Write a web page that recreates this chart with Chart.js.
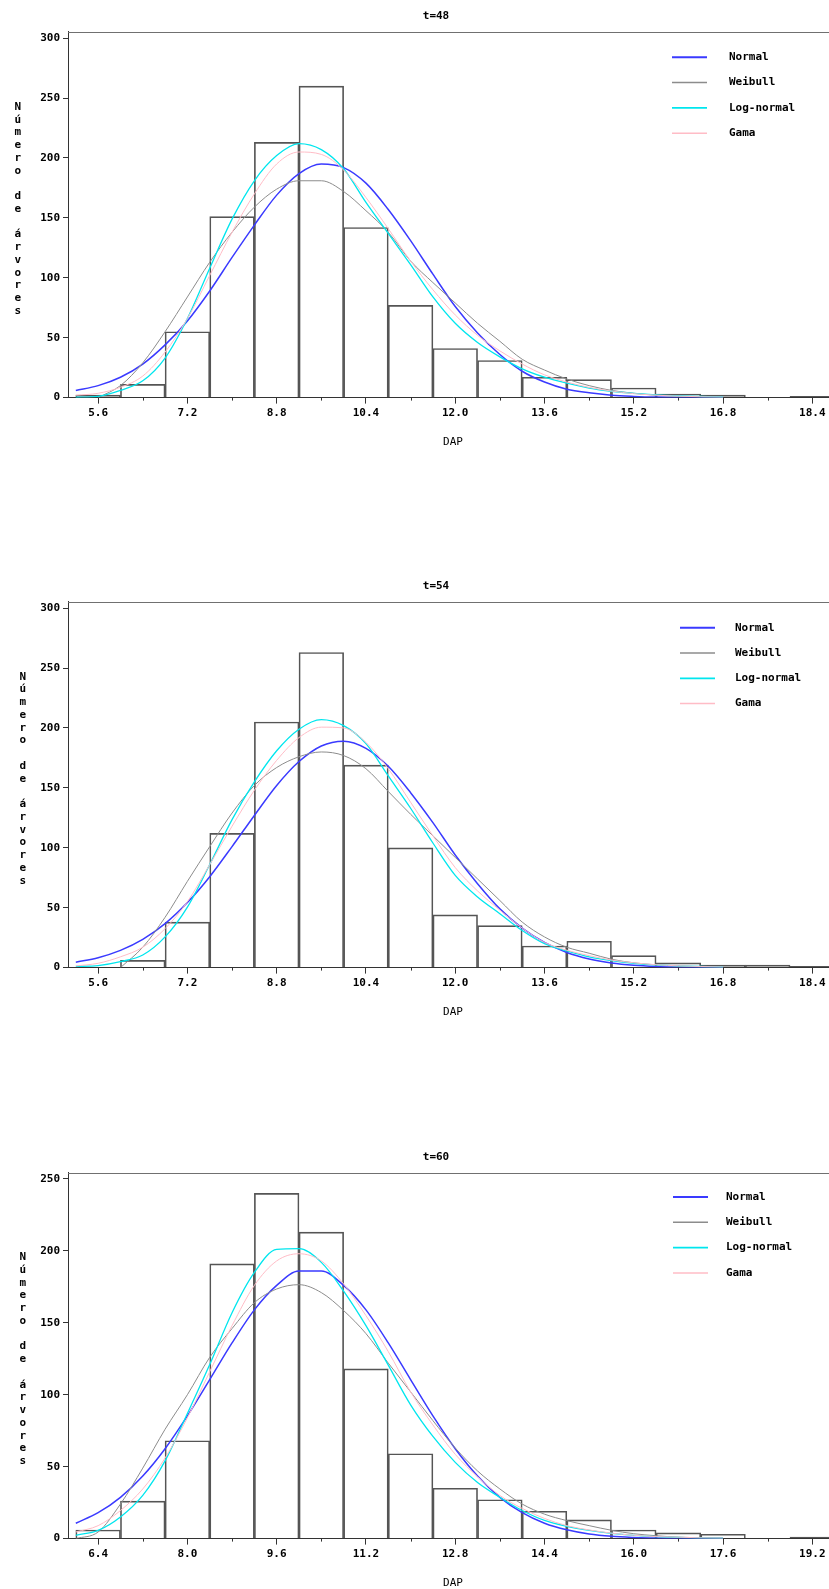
<!DOCTYPE html>
<html>
<head>
<meta charset="utf-8">
<script src="https://cdn.jsdelivr.net/npm/chart.js@4.4.0/dist/chart.umd.min.js"></script>
<style>
  html, body { margin: 0; padding: 0; background: #fff; overflow: hidden; }
  body { width: 829px; height: 1589px; position: relative; }
  .panel { position: absolute; left: 0; }
  .panel canvas { display: block; }
</style>
</head>
<body>
<div class="panel" style="top:0px"><canvas id="c48" width="838" height="453"></canvas></div>
<div class="panel" style="top:570px"><canvas id="c54" width="838" height="453"></canvas></div>
<div class="panel" style="top:1141px"><canvas id="c60" width="838" height="453"></canvas></div>
<script>
// histogram bins (class midpoints) and tree counts
const mids48 = [5.6, 6.4, 7.2, 8.0, 8.8, 9.6, 10.4, 11.2, 12.0, 12.8, 13.6, 14.4, 15.2, 16.0, 16.8, 17.6, 18.4];
const counts48 = [2, 11, 55, 151, 213, 260, 142, 77, 41, 31, 17, 15, 8, 3, 2, 0, 1];
const mids54 = [5.6, 6.4, 7.2, 8.0, 8.8, 9.6, 10.4, 11.2, 12.0, 12.8, 13.6, 14.4, 15.2, 16.0, 16.8, 17.6, 18.4];
const counts54 = [0, 6, 38, 112, 205, 263, 169, 100, 44, 35, 18, 22, 10, 4, 2, 2, 1];
const mids60 = [6.4, 7.2, 8.0, 8.8, 9.6, 10.4, 11.2, 12.0, 12.8, 13.6, 14.4, 15.2, 16.0, 16.8, 17.6, 18.4, 19.2];
const counts60 = [6, 26, 68, 191, 240, 213, 118, 59, 35, 27, 19, 13, 6, 4, 3, 0, 1];

// fitted curves
const curveX = [5.2, 5.6, 6.0, 6.4, 6.8, 7.2, 7.6, 8.0, 8.4, 8.8, 9.2, 9.6, 10.0, 10.4, 10.8, 11.2, 11.6, 12.0, 12.4, 12.8, 13.2, 13.6, 14.0, 14.4, 14.8, 15.2, 15.6, 16.0, 16.4, 16.8];
const curveX60 = [6.0, 6.4, 6.8, 7.2, 7.6, 8.0, 8.4, 8.8, 9.2, 9.6, 10.0, 10.4, 10.8, 11.2, 11.6, 12.0, 12.4, 12.8, 13.2, 13.6, 14.0, 14.4, 14.8, 15.2, 15.6, 16.0, 16.4, 16.8, 17.2, 17.6];

const normal48 = [6, 10, 17, 28, 44, 64, 89, 117, 144, 169, 187, 195, 192, 179, 157, 131, 103, 76, 54, 36, 22, 13, 7, 4, 2, 1, 0.4, 0.2, 0.1, 0];
const weibull48 = [null, 0, 10, 29, 55, 84, 113, 138, 159, 174, 181, 181, 172, 156, 138, 114, 96, 79, 62, 47, 32, 23, 15.5, 10, 6, 3.6, 2, 1.2, 0.6, 0.3];
const lognormal48 = [0.3, 1, 6, 14, 33, 66, 108, 149, 181, 202, 212, 207, 191, 163, 137, 111, 84, 62, 46, 34, 24, 17, 12, 8, 5.3, 3.5, 2.2, 1.4, 0.9, 0.5];
const gama48 = [2, 3.6, 8.6, 18, 38, 66, 102, 138, 170, 195, 205, 203, 190, 167, 141, 114, 90, 69, 52, 39, 28, 19, 13, 8.5, 5.5, 3.3, 2, 1.2, 0.7, 0.4];

const normal54 = [4.5, 8.3, 14.4, 23.6, 36.7, 54.3, 75.9, 101, 127, 152, 172, 185, 189, 183, 168, 146, 121, 94, 70, 49, 33, 21, 12.6, 7.2, 3.9, 2, 1, 0.5, 0.2, 0.1];
const weibull54 = [null, null, 0, 17, 42, 72, 101, 129, 152, 167, 176, 180, 177, 166, 147, 128, 110, 92, 74, 56, 38, 25.6, 17, 12, 7, 4, 2.3, 1.3, 0.7, 0.4];
const lognormal54 = [1, 1.7, 5, 10.5, 25.6, 50.5, 86, 123.5, 155, 181, 199, 207, 202, 187, 160, 133, 104, 77, 59, 45, 31, 20, 14, 9, 5.8, 3.6, 2.2, 1.5, 0.9, 0.5];
const gama54 = [1.4, 3.6, 9, 17, 32.5, 55, 86, 118, 148, 173, 192, 200.7, 200, 188, 166, 138, 110, 83.5, 64, 48, 33, 21, 14.5, 10, 6.3, 4, 2.4, 1.5, 0.9, 0.5];

const normal60 = [10.7, 18, 28.7, 43.5, 62.5, 85.3, 110.5, 136, 159, 176, 186, 186, 176, 159, 136, 110.5, 85.3, 62.5, 43.5, 28.7, 18, 10.7, 6.1, 3.2, 1.6, 0.8, 0.35, 0.15, 0.06, 0];
const weibull60 = [0, 4.6, 24, 49, 76, 100, 126, 146, 164, 173.5, 176.5, 171, 158.5, 142.5, 122, 102, 82, 63, 47, 34.5, 24, 17, 12.5, 9, 5.8, 3.4, 2, 1, 0.6, 0.3];
const lognormal60 = [2.3, 5.7, 15, 30, 54, 87, 121, 157, 185, 201, 201.5, 192, 172, 148, 120.6, 93, 71, 53, 39, 28.7, 19.5, 12.6, 8.5, 5.7, 3.7, 2.3, 1.4, 0.8, 0.5, 0.3];
const gama60 = [4.6, 9, 19.5, 34.5, 56, 84, 116, 148, 176, 193, 198, 193, 177, 155, 130, 102, 79, 58.6, 43, 30, 21, 14, 9, 6, 3.8, 2.3, 1.4, 1, 0.5, 0.3];

// axis ticks
const ticksX = [5.6, 7.2, 8.8, 10.4, 12.0, 13.6, 15.2, 16.8, 18.4];
const minorX = [6.4, 8.0, 9.6, 11.2, 12.8, 14.4, 16.0, 17.6];
const ticksX60 = [6.4, 8.0, 9.6, 11.2, 12.8, 14.4, 16.0, 17.6, 19.2];
const minorX60 = [7.2, 8.8, 10.4, 12.0, 13.6, 15.2, 16.8, 18.4];
const ticksY300 = [0, 50, 100, 150, 200, 250, 300];
const ticksY250 = [0, 50, 100, 150, 200, 250];

const seriesNames = ["Normal", "Weibull", "Log-normal", "Gama"];
const seriesColors = ["#3a3aff", "#8c8c8c", "#00e6ee", "#ffbcc6"];
const seriesWidths = [1.5, 1, 1.3, 1];

const MONO = "'DejaVu Sans Mono', monospace";
const yTitle = "Número de árvores";

// title, top frame, minor x ticks, legend and stacked y title
const sasDecor = {
  id: "sasDecor",
  afterDraw(chart, args, opts) {
    const ctx = chart.ctx;
    const area = chart.chartArea;
    const xs = chart.scales.x;
    ctx.save();

    ctx.strokeStyle = "#707070";
    ctx.lineWidth = 1;
    ctx.beginPath();
    ctx.moveTo(area.left, Math.round(area.top) + 0.5);
    ctx.lineTo(area.right, Math.round(area.top) + 0.5);
    ctx.stroke();

    ctx.strokeStyle = "#333";
    ctx.beginPath();
    opts.minor.forEach((v) => {
      const px = Math.round(xs.getPixelForValue(v)) + 0.5;
      ctx.moveTo(px, area.bottom);
      ctx.lineTo(px, area.bottom + 3);
    });
    ctx.stroke();

    ctx.fillStyle = "#000";
    ctx.font = "bold 11px " + MONO;
    ctx.textAlign = "center";
    ctx.textBaseline = "middle";
    ctx.fillText(opts.title, 436, 16);

    // legend
    let k = 0;
    chart.data.datasets.forEach((ds) => {
      if (ds.type !== "line") return;
      const y = opts.legendY + k * 25.3;
      ctx.strokeStyle = ds.borderColor;
      ctx.lineWidth = ds.borderWidth + 0.5;
      ctx.beginPath();
      ctx.moveTo(opts.legendX, y);
      ctx.lineTo(opts.legendX + 35, y);
      ctx.stroke();
      ctx.textAlign = "left";
      ctx.fillText(ds.label, opts.legendTextX, y);
      k++;
    });

    // y axis title, one letter under the other
    ctx.textAlign = "center";
    Array.from(yTitle).forEach((ch, i) => {
      if (ch === " ") return;
      ctx.fillText(ch, opts.yTitleX, opts.yTitleY + i * 12.75);
    });
    ctx.restore();
  },
};

function makeChart(id, p) {
  const curves = [p.normal, p.weibull, p.lognormal, p.gama];
  const lineSets = curves.map((vals, i) => ({
    type: "line",
    label: seriesNames[i],
    data: p.curveX.map((x, j) => ({ x: x, y: vals[j] })),
    borderColor: seriesColors[i],
    borderWidth: seriesWidths[i],
    pointRadius: 0,
    fill: false,
    cubicInterpolationMode: "monotone",
    order: 4 - i,
  }));

  return new Chart(document.getElementById(id), {
    type: "bar",
    data: {
      datasets: [
        {
          type: "bar",
          label: "Frequência",
          data: p.mids.map((m, i) => ({ x: m, y: p.counts[i] })),
          backgroundColor: "rgba(255,255,255,0)",
          borderColor: "#555",
          borderWidth: 1,
          barPercentage: 1,
          categoryPercentage: 1,
          order: 10,
        },
        ...lineSets,
      ],
    },
    options: {
      responsive: false,
      animation: false,
      layout: { padding: { top: 31.6, left: 0, right: 0, bottom: 0 } },
      scales: {
        x: {
          type: "linear",
          min: p.xMin,
          max: p.xMax,
          offset: false,
          afterBuildTicks: (s) => {
            s.ticks = p.ticksX.map((v) => ({ value: v }));
          },
          grid: { drawOnChartArea: false, offset: false, tickLength: 6, tickColor: "#333" },
          border: { color: "#333" },
          ticks: {
            callback: (v) => Number(v).toFixed(1),
            font: { family: MONO, size: 11, weight: "bold" },
            color: "#000",
            padding: 3,
            maxRotation: 0,
            autoSkip: false,
          },
          title: {
            display: true,
            text: "DAP",
            font: { family: MONO, size: 11 },
            color: "#000",
            padding: { top: 13, bottom: 4 },
          },
        },
        y: {
          type: "linear",
          min: 0,
          max: p.yMax,
          afterFit: (s) => {
            s.width = 68;
          },
          afterBuildTicks: (s) => {
            s.ticks = p.ticksY.map((v) => ({ value: v }));
          },
          grid: { drawOnChartArea: false, tickLength: 5, tickColor: "#333" },
          border: { color: "#333" },
          ticks: {
            font: { family: MONO, size: 11, weight: "bold" },
            color: "#000",
            padding: 3,
          },
        },
      },
      plugins: {
        legend: { display: false },
        title: { display: false },
        tooltip: { enabled: false },
        sasDecor: p.decor,
      },
    },
    plugins: [sasDecor],
  });
}

makeChart("c48", {
  mids: mids48, counts: counts48, curveX: curveX,
  normal: normal48, weibull: weibull48, lognormal: lognormal48, gama: gama48,
  xMin: 5.06, xMax: 18.86, yMax: 305.5, ticksX: ticksX, ticksY: ticksY300,
  decor: { title: "t=48", minor: minorX, legendX: 672, legendTextX: 729, legendY: 57.3, yTitleX: 17.7, yTitleY: 107 },
});

makeChart("c54", {
  mids: mids54, counts: counts54, curveX: curveX,
  normal: normal54, weibull: weibull54, lognormal: lognormal54, gama: gama54,
  xMin: 5.06, xMax: 18.86, yMax: 305.5, ticksX: ticksX, ticksY: ticksY300,
  decor: { title: "t=54", minor: minorX, legendX: 680, legendTextX: 735, legendY: 57.7, yTitleX: 22.7, yTitleY: 106.7 },
});

makeChart("c60", {
  mids: mids60, counts: counts60, curveX: curveX60,
  normal: normal60, weibull: weibull60, lognormal: lognormal60, gama: gama60,
  xMin: 5.86, xMax: 19.66, yMax: 254.4, ticksX: ticksX60, ticksY: ticksY250,
  decor: { title: "t=60", minor: minorX60, legendX: 673, legendTextX: 726, legendY: 56, yTitleX: 22.7, yTitleY: 116.3 },
});
</script>
</body>
</html>
